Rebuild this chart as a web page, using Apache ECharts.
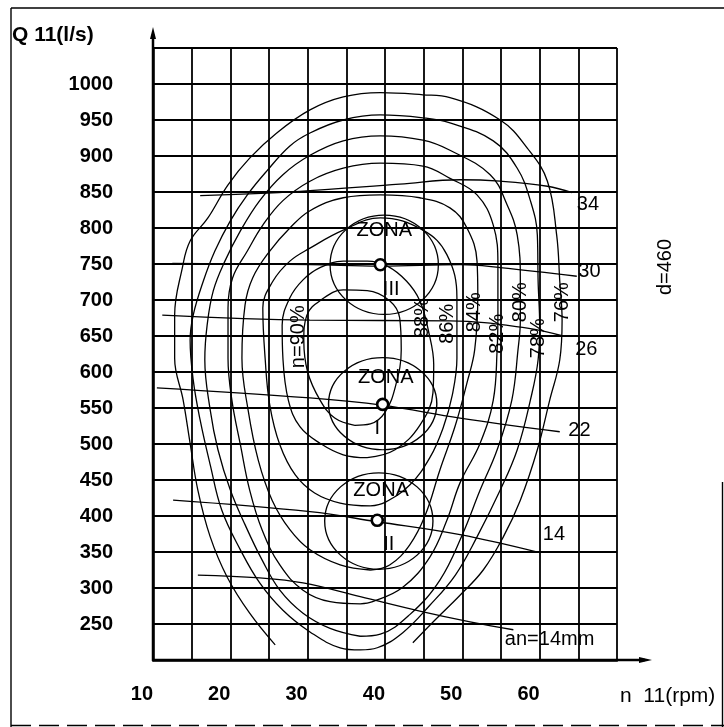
<!DOCTYPE html>
<html><head><meta charset="utf-8">
<script src="https://cdn.jsdelivr.net/npm/echarts@6/dist/echarts.min.js"></script>
<style>html,body{margin:0;padding:0;background:#fff}#c{width:724px;height:727px}</style>
</head><body><div id="c"></div>
<script>
// ---- axis ticks ----
const xTickLabels = [10, 20, 30, 40, 50, 60];
const yTickLabels = [250, 300, 350, 400, 450, 500, 550, 600, 650, 700, 750, 800, 850, 900, 950, 1000];

// ---- efficiency contours [n11, Q11] ----
const eff76 = [[25.8,221],[22.5,265],[19.6,315],[17.4,371],[15.8,436],[14.8,501],[13.9,561],[12.8,619],[12.8,679],[13.8,745],[14.8,782],[17.1,814],[19.7,860],[22.5,897],[26.0,932],[30.3,964],[34.6,982],[39.4,988],[44.9,985],[48.4,981],[54.9,950],[58.4,911],[61.0,865],[62.2,790],[62.6,726],[62.9,672],[62.6,617],[61.3,561],[59.7,492],[57.5,422],[55.3,371],[52.7,325],[49.7,290],[46.5,256],[43.6,224]];
const eff78 = [[36.8,214],[34.2,217],[30.3,239],[26.8,269],[23.8,307],[21.3,353],[18.9,408],[17.4,471],[16.1,533],[15.2,589],[14.8,644],[15.2,679],[16.5,726],[18.0,768],[20.0,810],[22.2,846],[24.7,879],[27.7,914],[30.3,932],[34.6,950],[39.4,957],[44.9,953],[48.4,946],[54.0,921],[57.1,883],[58.8,838],[59.7,790],[59.8,726],[60.0,665],[59.8,617],[58.8,561],[57.1,492],[54.9,436],[51.9,371],[49.1,318],[45.8,276],[42.3,238],[39.0,217],[36.8,214]];
const eff80 = [[36.8,233],[32.9,244],[29.4,265],[26.4,297],[24.1,339],[21.9,388],[20.0,436],[18.4,492],[17.4,547],[16.7,617],[17.0,665],[17.8,713],[19.3,754],[21.3,796],[23.8,838],[26.8,874],[30.3,901],[34.6,921],[39.4,928],[44.9,922],[48.4,908],[53.6,874],[55.8,832],[57.1,790],[57.5,726],[57.5,672],[57.2,631],[56.4,561],[54.5,492],[52.3,436],[50.0,374],[47.1,311],[43.2,263],[39.4,236],[36.8,233]];
const eff82 = [[36.8,278],[32.9,281],[29.4,297],[26.4,332],[24.1,381],[22.5,436],[21.3,499],[20.2,561],[19.7,619],[19.7,689],[20.3,731],[22.2,768],[24.2,804],[26.8,838],[30.3,865],[34.6,883],[39.4,890],[44.9,886],[48.4,869],[51.9,846],[54.0,804],[54.6,749],[54.6,679],[54.5,631],[54.0,561],[52.3,501],[49.7,446],[48.0,394],[45.8,343],[42.3,301],[38.4,281],[36.8,278]];
const eff84 = [[38.1,325],[34.2,332],[30.3,353],[27.7,381],[25.4,422],[23.6,478],[22.3,547],[21.5,619],[21.9,693],[22.9,731],[25.1,768],[27.7,800],[30.3,824],[34.6,842],[39.4,846],[44.5,842],[48.4,828],[50.6,800],[51.9,754],[52.0,707],[51.6,631],[50.6,585],[49.1,526],[47.1,464],[45.2,401],[43.2,360],[40.6,332],[38.1,325]];
const eff86 = [[38.1,414],[34.2,418],[30.9,432],[28.4,457],[26.4,499],[25.1,554],[24.5,619],[24.2,689],[25.5,726],[27.7,754],[30.3,772],[34.6,797],[39.4,814],[44.9,797],[48.0,763],[49.3,703],[49.3,619],[48.7,568],[47.5,522],[45.8,481],[43.2,443],[40.0,419],[38.1,414]];
const eff88 = [[37.7,481],[34.6,485],[31.6,501],[29.0,524],[27.5,561],[26.8,619],[26.7,665],[27.7,703],[29.4,728],[31.6,745],[34.6,754],[37.7,754],[40.3,747],[42.8,726],[44.5,699],[45.6,658],[46.3,610],[46.2,571],[44.5,526],[41.3,492],[37.7,481]];
const eff90 = [[36.1,526],[33.5,536],[31.6,561],[30.0,600],[29.5,644],[29.9,679],[31.6,699],[34.6,714],[37.7,713],[40.6,699],[41.9,675],[42.1,631],[41.4,582],[40.0,544],[38.1,528],[36.1,526]];

// ---- guide-vane opening lines ----
const an14mm = [[15.8,318],[23.8,314],[29.4,307],[36.8,288],[44.5,268],[51.0,253],[56.6,242]];
const an14 = [[12.6,422],[30.3,406],[39.0,392],[49.7,374],[60.0,349]];
const an22 = [[10.5,578],[30.3,564],[39.6,554],[49.7,536],[62.6,517]];
const an26 = [[11.2,679],[30.3,672],[48.4,671],[58.4,661],[63.0,650]];
const an30 = [[12.5,751],[30.3,749],[39.4,747],[49.7,749],[54.9,745],[64.8,733]];
const an34 = [[16.1,845],[29.0,851],[41.9,861],[49.7,867],[54.9,865],[61.0,858],[64.2,849]];

// ---- zones ----
const zoneNames = ['III', 'I', 'II'];
const zonePoints = [[39.4,749],[39.7,555],[39.0,394]];
const zoneCentres = [[39.9,749],[39.7,556],[39.2,393]];
const zoneHalfN = [7.0, 7.0, 7.0];
const zoneHalfQ = [69, 64, 67];
const zoneTitleAt = [[39.9,797],[40.1,592],[39.5,435]];
const zoneNumAt = [[40.8,714],[39.0,522],[40.5,360]];

// ---- contour labels ----
const effLabels = ['n=90%', '88%', '86%', '84%', '82%', '80%', '78%', '76%'];
const effLabelAt = [[28.8,649],[44.9,675],[48.1,667],[51.6,683],[54.6,653],[57.5,697],[59.8,647],[62.9,697]];
const anLabels = ['34', '30', '26', '22', '14', 'an=14mm'];
const anLabelAt = [[64.8,832],[65.0,739],[64.6,631],[63.7,519],[60.4,375],[55.5,229]];

const FONT = '"Liberation Sans", Arial, Helvetica, sans-serif';
const chart = echarts.init(document.getElementById('c'));

function lineS(data, w) {
  return {type: 'line', data: data, smooth: 0.4, symbol: 'none', silent: true, z: 3,
          lineStyle: {color: '#000', width: w || 1.3}};
}
function textSeries(labels, at, opt) {
  return {type: 'custom', silent: true, z: 6,
    data: at.map(p => [p[0], p[1]]),
    renderItem: function (params, api) {
      const c = api.coord([api.value(0), api.value(1)]);
      return {type: 'text', x: c[0], y: c[1], rotation: opt.rot || 0,
        style: {text: labels[params.dataIndex], font: opt.font, fill: '#000',
                align: opt.align || 'center', verticalAlign: 'middle'}};
    }};
}

const series = [
  lineS(eff76), lineS(eff78), lineS(eff80), lineS(eff82),
  lineS(eff84), lineS(eff86), lineS(eff88), lineS(eff90),
  lineS(an14mm), lineS(an14), lineS(an22), lineS(an26), lineS(an30), lineS(an34),
  {type: 'custom', silent: true, z: 4,
    data: zoneCentres.map((c, i) => [c[0], c[1], zoneHalfN[i], zoneHalfQ[i]]),
    renderItem: function (params, api) {
      const c = api.coord([api.value(0), api.value(1)]);
      const p = api.coord([api.value(0) + api.value(2), api.value(1) + api.value(3)]);
      const rx = Math.abs(p[0] - c[0]), ry = Math.abs(p[1] - c[1]);
      return {type: 'circle', x: c[0], y: c[1], scaleX: rx / ry, scaleY: 1,
        shape: {cx: 0, cy: 0, r: ry},
        style: {fill: 'none', stroke: '#000', lineWidth: 1.2}};
    }},
  {type: 'scatter', data: zonePoints, symbol: 'circle', symbolSize: 11, silent: true, z: 7,
    itemStyle: {color: '#fff', borderColor: '#000', borderWidth: 2.6, opacity: 1}},
  textSeries(zoneNames.map(() => 'ZONA'), zoneTitleAt, {font: '20px ' + FONT}),
  textSeries(zoneNames, zoneNumAt, {font: '20px ' + FONT}),
  textSeries(effLabels, effLabelAt, {font: '20px ' + FONT, rot: Math.PI / 2}),
  textSeries(anLabels, anLabelAt, {font: '20px ' + FONT, align: 'left'})
];

chart.setOption({
  animation: false,
  backgroundColor: '#fff',
  grid: {left: 153, right: 107, top: 48, bottom: 67, containLabel: false},
  xAxis: {type: 'value', min: 10, max: 70, interval: 5,
    axisLine: {show: true, lineStyle: {color: '#000', width: 2.5}},
    axisTick: {show: false},
    splitLine: {show: true, lineStyle: {color: '#000', width: 1.8}},
    axisLabel: {interval: 0, margin: 24, align: 'right', color: '#000',
      fontFamily: FONT, fontSize: 20, fontWeight: 'bold',
      formatter: v => xTickLabels.includes(v) ? String(v) : ''}},
  yAxis: {type: 'value', min: 200, max: 1050, interval: 50,
    axisLine: {show: true, lineStyle: {color: '#000', width: 2.5}},
    axisTick: {show: false},
    splitLine: {show: true, lineStyle: {color: '#000', width: 1.8}},
    axisLabel: {interval: 0, margin: 40, color: '#000',
      fontFamily: FONT, fontSize: 20, fontWeight: 'bold',
      formatter: v => yTickLabels.includes(v) ? String(v) : ''}},
  series: series
});

const o = chart.convertToPixel({gridIndex: 0}, [10, 200]);
const e = chart.convertToPixel({gridIndex: 0}, [70, 1050]);
chart.setOption({
  graphic: [
    // outer frame
    {type: 'line', shape: {x1: 11, y1: 8, x2: 724, y2: 8}, style: {stroke: '#000', lineWidth: 1.4}},
    {type: 'line', shape: {x1: 11, y1: 8, x2: 11, y2: 727}, style: {stroke: '#000', lineWidth: 1.4}},
    {type: 'line', shape: {x1: 11, y1: 725.5, x2: 724, y2: 725.5}, style: {stroke: '#000', lineWidth: 1.4, lineDash: [20, 8]}},
    {type: 'line', shape: {x1: 722.5, y1: 482, x2: 722.5, y2: 727}, style: {stroke: '#000', lineWidth: 1.4}},
    // axis arrows
    {type: 'line', shape: {x1: o[0], y1: o[1], x2: o[0], y2: e[1] - 14}, style: {stroke: '#000', lineWidth: 2.5}, z: 10},
    {type: 'polygon', shape: {points: [[o[0], e[1] - 21], [o[0] - 3, e[1] - 9], [o[0] + 3, e[1] - 9]]}, style: {fill: '#000'}, z: 10},
    {type: 'line', shape: {x1: o[0], y1: o[1], x2: e[0] + 28, y2: o[1]}, style: {stroke: '#000', lineWidth: 2.5}, z: 10},
    {type: 'polygon', shape: {points: [[e[0] + 35, o[1]], [e[0] + 22, o[1] - 3], [e[0] + 22, o[1] + 3]]}, style: {fill: '#000'}, z: 10},
    // axis names and side note
    {type: 'text', x: 12, y: 35, style: {text: 'Q 11(l/s)', font: 'bold 21px ' + FONT, fill: '#000', verticalAlign: 'middle'}},
    {type: 'text', x: 620, y: 696, style: {text: 'n  11(rpm)', font: '21px ' + FONT, fill: '#000', verticalAlign: 'middle'}},
    {type: 'text', x: 665, y: 267, rotation: Math.PI / 2, style: {text: 'd=460', font: '20px ' + FONT, fill: '#000', align: 'center', verticalAlign: 'middle'}}
  ]
});
</script>
</body></html>
